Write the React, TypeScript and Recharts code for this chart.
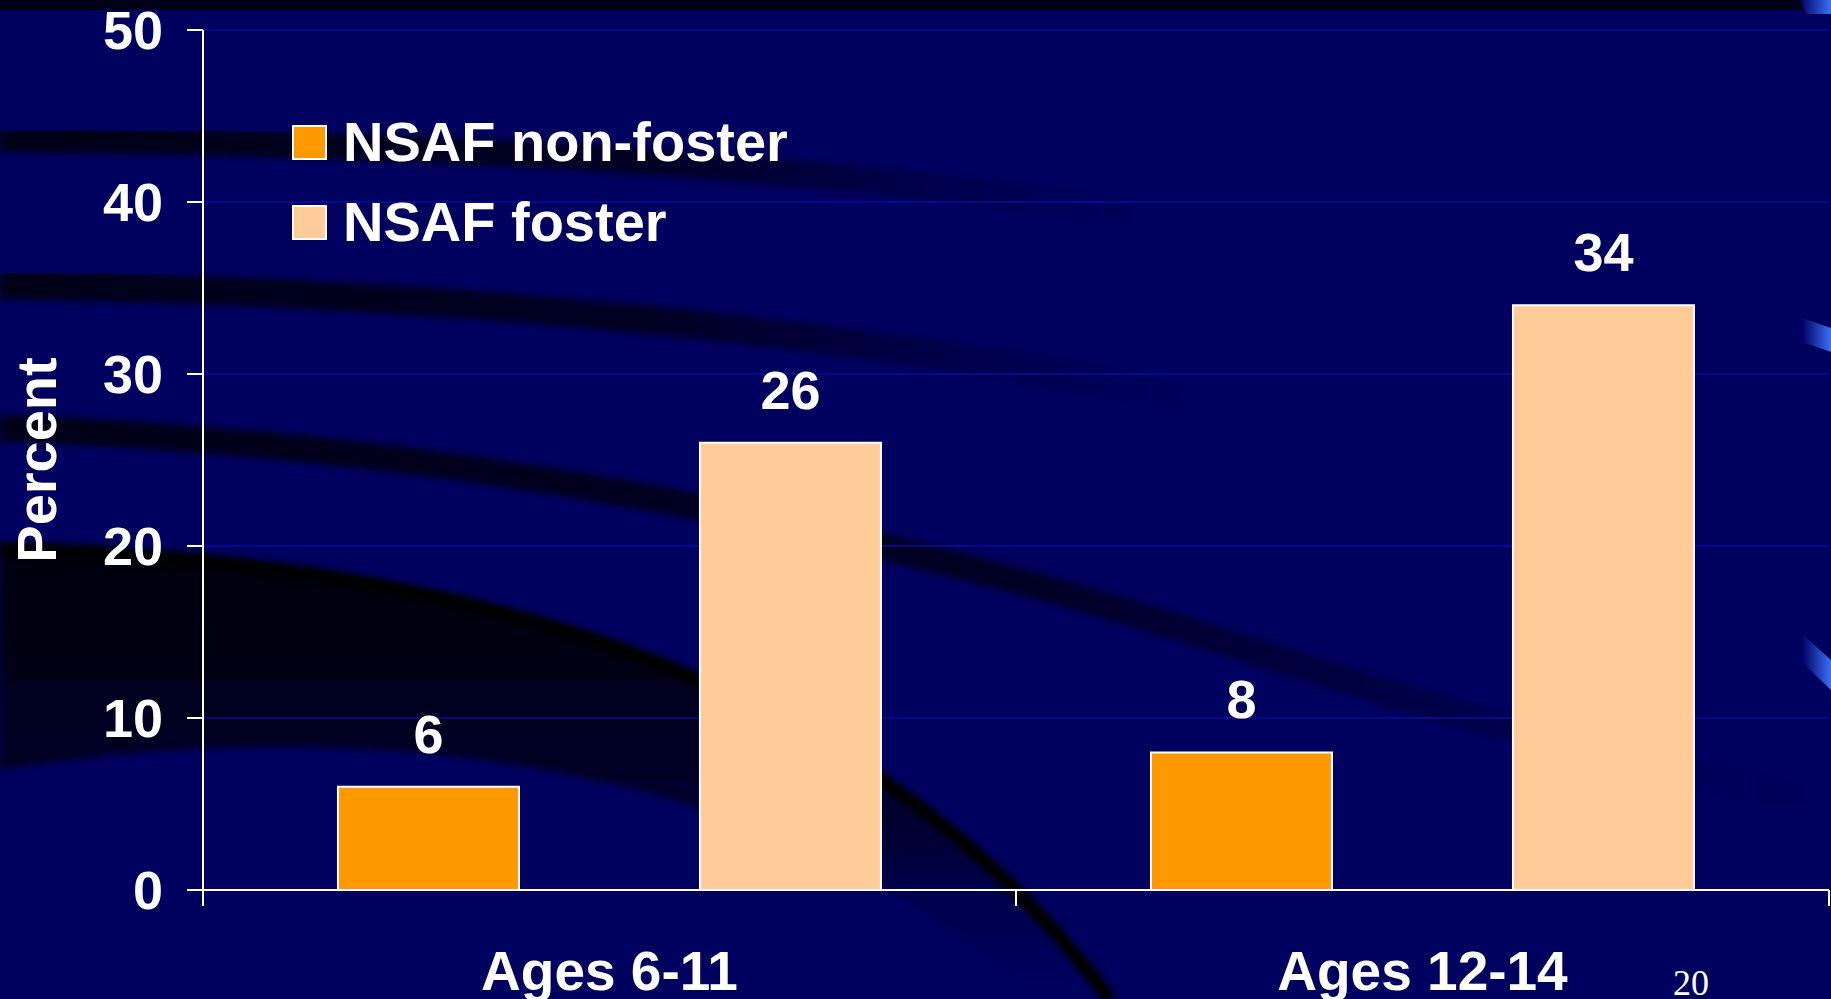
import React from "react";
import { BarChart, Bar, XAxis, YAxis, CartesianGrid, Legend, LabelList } from "recharts";

// chart values
const groups = ["Ages 6-11", "Ages 12-14"];
const groupPos = [0.5, 1.5];
const nonFoster = [6, 8];
const foster = [26, 34];
const seriesNames = ["NSAF non-foster", "NSAF foster"];
const yTicks = [0, 10, 20, 30, 40, 50];
const edgeTicks = [0, 0.5, 1, 1.5, 2];

const data = groups.map((g, i) => ({
  group: g,
  pos: groupPos[i],
  nonFoster: nonFoster[i],
  foster: foster[i],
}));

const FONT = '"Liberation Sans", Arial, Helvetica, sans-serif';
const BG = "#00005f";

// x axis: tick marks at group edges, labels in the middle
const EdgeTick = (props: any) => {
  const { x, y, payload } = props;
  const v = payload.value;
  if (Number.isInteger(v)) {
    return <line x1={x} y1={y} x2={x} y2={y + 16} stroke="#ffffff" strokeWidth={2} />;
  }
  const idx = groupPos.indexOf(v);
  return (
    <text x={x} y={y + 100} textAnchor="middle" fill="#ffffff" fontFamily={FONT} fontWeight="bold" fontSize={55}>
      {groups[idx]}
    </text>
  );
};

const LegendBox = (props: any) => {
  // keep the series order of the slide, not the alphabetical one
  const payload = [...(props.payload || [])].sort(
    (a: any, b: any) => seriesNames.indexOf(a.value) - seriesNames.indexOf(b.value)
  );
  return (
    <div>
      {payload.map((p: any) => (
        <div key={p.value} style={{ display: "flex", alignItems: "center", height: 80 }}>
          <div
            style={{
              width: 31,
              height: 31,
              background: p.color,
              border: "2px solid #ffffff",
              marginRight: 16,
            }}
          />
          <span style={{ color: "#fff", fontFamily: FONT, fontWeight: "bold", fontSize: 56, lineHeight: "80px" }}>
            {p.value}
          </span>
        </div>
      ))}
    </div>
  );
};

const Background = () => (
  <svg width={1831} height={999} style={{ position: "absolute", left: 0, top: 0 }}>
    <defs>
      <linearGradient id="fadeR" x1="0" x2="1" y1="0" y2="0">
        <stop offset="0" stopColor="#000012" stopOpacity="1" />
        <stop offset="0.55" stopColor="#000018" stopOpacity="0.85" />
        <stop offset="1" stopColor="#000030" stopOpacity="0" />
      </linearGradient>
      <linearGradient id="bigDark" x1="0" x2="0" y1="0" y2="1">
        <stop offset="0" stopColor="#000008" stopOpacity="1" />
        <stop offset="0.6" stopColor="#000020" stopOpacity="0.8" />
        <stop offset="1" stopColor="#00004a" stopOpacity="0" />
      </linearGradient>
      <linearGradient id="edgeBlue" x1="0" x2="1" y1="0" y2="0">
        <stop offset="0" stopColor={BG} />
        <stop offset="1" stopColor="#3a70f8" />
      </linearGradient>
      <filter id="soft">
        <feGaussianBlur stdDeviation="3" />
      </filter>
    </defs>
    <rect x={0} y={0} width={1831} height={10} fill="#000018" />
    <path d="M0,139 C400,142 800,162 1150,215" stroke="url(#fadeR)" strokeWidth={26} fill="none" filter="url(#soft)" />
    <path d="M0,285 C450,292 850,330 1200,400" stroke="url(#fadeR)" strokeWidth={28} fill="none" filter="url(#soft)" />
    <path d="M0,428 C450,445 850,520 1250,650 C1500,730 1700,780 1831,800" stroke="url(#fadeR)" strokeWidth={26} fill="none" filter="url(#soft)" />
    <path
      d="M0,549 C500,560 880,690 1110,999 L1035,999 C820,790 420,700 0,770 Z"
      fill="url(#bigDark)"
      filter="url(#soft)"
    />
    <path d="M0,549 C500,560 880,690 1110,999" stroke="#000006" strokeWidth={14} fill="none" filter="url(#soft)" />
    <polygon points="1800,0 1831,0 1831,14 1806,14" fill="url(#edgeBlue)" />
    <polygon points="1802,318 1831,328 1831,352 1802,342" fill="url(#edgeBlue)" />
    <polygon points="1802,634 1831,660 1831,690 1802,662" fill="url(#edgeBlue)" />
  </svg>
);

export default function App() {
  return (
    <div style={{ position: "absolute", left: 0, top: 0, width: 1831, height: 999, overflow: "hidden", background: BG }}>
      <Background />
      <div style={{ position: "absolute", left: 0, top: 0 }}>
        <BarChart
          width={1831}
          height={999}
          data={data}
          margin={{ top: 30, right: 2, left: 0, bottom: 0 }}
          barCategoryGap="16.6%"
          barGap={181}
        >
          <CartesianGrid vertical={false} stroke="#0b0b9c" strokeWidth={1.5} />
          <XAxis xAxisId="cat" dataKey="group" hide height={0} />
          <XAxis
            xAxisId="num"
            dataKey="pos"
            type="number"
            domain={[0, 2]}
            ticks={edgeTicks}
            allowDataOverflow
            interval={0}
            height={109}
            tickSize={0}
            tickMargin={0}
            tickLine={false}
            axisLine={{ stroke: "#ffffff", strokeWidth: 2 }}
            tick={<EdgeTick />}
          />
          <YAxis
            domain={[0, 50]}
            ticks={yTicks}
            width={203}
            tickSize={16}
            tickMargin={24}
            interval={0}
            axisLine={{ stroke: "#ffffff", strokeWidth: 2 }}
            tickLine={{ stroke: "#ffffff", strokeWidth: 2 }}
            tick={{ fill: "#ffffff", fontFamily: FONT, fontWeight: "bold", fontSize: 54 }}
            label={{
              content: (p: any) => {
                const vb = p.viewBox;
                const cx = 36;
                const cy = vb.y + vb.height / 2;
                return (
                  <text
                    x={cx}
                    y={cy}
                    transform={`rotate(-90 ${cx} ${cy})`}
                    textAnchor="middle"
                    dominantBaseline="central"
                    fill="#ffffff"
                    fontFamily={FONT}
                    fontWeight="bold"
                    fontSize={56}
                  >
                    Percent
                  </text>
                );
              },
            }}
          />
          <Legend
            layout="vertical"
            align="center"
            verticalAlign="middle"
            content={<LegendBox />}
            wrapperStyle={{ position: "absolute", left: 292, top: 102, width: 600, height: 160 }}
          />
          <Bar xAxisId="cat" dataKey="nonFoster" name={seriesNames[0]} fill="#ff9900" stroke="#ffffff" strokeWidth={2} isAnimationActive={false}>
            <LabelList dataKey="nonFoster" position="top" offset={34} fill="#ffffff" fontFamily={FONT} fontWeight="bold" fontSize={54} />
          </Bar>
          <Bar xAxisId="cat" dataKey="foster" name={seriesNames[1]} fill="#ffcc99" stroke="#ffffff" strokeWidth={2} isAnimationActive={false}>
            <LabelList dataKey="foster" position="top" offset={34} fill="#ffffff" fontFamily={FONT} fontWeight="bold" fontSize={54} />
          </Bar>
        </BarChart>
      </div>
      <div
        style={{
          position: "absolute",
          left: 1673,
          top: 963,
          color: "#ffffff",
          fontFamily: '"Liberation Serif", "Times New Roman", serif',
          fontSize: 36,
          lineHeight: "40px",
        }}
      >
        20
      </div>
    </div>
  );
}
